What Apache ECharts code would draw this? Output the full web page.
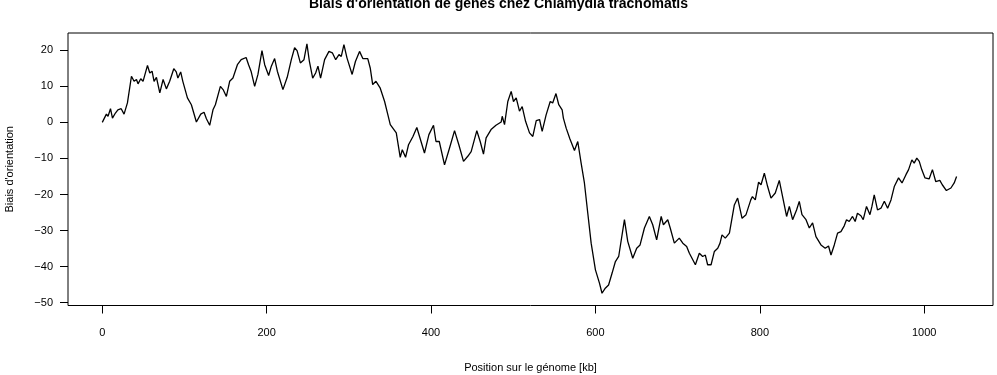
<!DOCTYPE html>
<html>
<head>
<meta charset="utf-8">
<script src="https://cdn.jsdelivr.net/npm/echarts@6/dist/echarts.min.js"></script>
<style>html,body{margin:0;padding:0;background:#fff;}#c{width:997px;height:375px;}</style>
</head>
<body>
<div id="c"></div>
<script>
const titleText = "Biais d'orientation de gènes chez Chlamydia trachomatis";
const xName = "Position sur le génome [kb]";
const yName = "Biais d'orientation";
const xTicks = [0, 200, 400, 600, 800, 1000];
const yTicks = [-50, -40, -30, -20, -10, 0, 10, 20];
const positions = [0,1,5,7,10,12.4,16,19,23,26.5,30.6,35.5,38.7,41.6,43.5,46.8,49.6,55,57.8,60.6,63,65.9,70,74,78,82,87,90,92,95.4,98,103.6,108.4,114.5,119.8,123.8,126.7,130.7,134.7,137.6,143.7,147,151,155,159,164.4,169,175,178,181,185.4,189.4,194.3,197.6,199.6,202.4,205.7,209.7,213,219.8,225,230,234,237,241,245.4,249,252,256,259.6,262.4,265.6,270.5,275.8,279.9,284,288,290.8,294,297.7,304,308,313,317,323,326,329,333,338,343.5,347.5,350.4,357.7,362.5,365,369,372.6,378,382.7,386,392,397.4,403,406,410,416.4,422.5,428.6,433.8,439.5,444.7,448.8,455.7,459.8,463.8,467,473,479,485.3,486.6,489.4,493.4,497.5,500.3,503.6,507.6,510.9,515,519.8,523.8,528,532,535.2,540,545,548,552,555.4,559.5,561,564.4,569,574.5,578.5,582.6,586.6,590.7,594.8,600,604.9,608,612,616,620.3,624.3,628.3,635.3,639.3,645.4,650.2,654.3,659.6,665.6,669.7,674.5,680,682.7,688,691,696,702,706.3,711,714.3,721.6,726.4,730.5,733.7,736.5,740.7,744.7,748.8,751.6,754,758,763,769,773,778.4,783.2,789,791,794.5,798.5,801.5,805.5,809.5,813.6,818.8,823.7,827.7,832.6,835.9,839.9,844.7,848,851.3,856.2,860.2,864.2,868.3,874.4,879.6,883.6,886.6,890.6,894.6,898.7,902.7,905.5,908.8,912.8,916,918.8,923,925.8,929.8,934,936.4,939.2,943.2,947.4,951.5,955.5,959.6,963.6,968.8,973,977.8,981,985,987.8,991,994,997,1001,1006,1010,1014,1019,1022,1027,1032.5,1036.5,1039.4];
const bias = [0,0.1,2.3,1.7,3.8,1.2,2.6,3.5,3.8,2.3,5.4,12.8,11.4,11.9,10.7,12.1,11.4,15.8,13.7,14.2,11.4,12.5,8.2,11.9,9.3,11.4,14.9,14,12.3,14,11.4,6.8,4.9,0.1,2.3,2.8,1,-0.8,3.5,4.9,10,9.1,7.2,11.4,12.3,16,17.4,18,16,14.2,10,13.3,19.9,16,16.5,13,15.6,17.7,14.2,9.1,12.5,17.4,20.7,19.9,16.5,17.4,21.8,16.9,12.3,13.7,15.6,12.3,17.4,19.7,19.3,17.4,18.8,18.3,21.6,17.9,13.3,16.9,19.7,17.7,17.7,15.1,10.5,11.4,9.6,5.8,2.1,-0.6,-2.9,-9.7,-7.6,-9.7,-6.2,-3.9,-1.4,-3.9,-8.5,-3.4,-0.8,-5.3,-5.3,-11.8,-7.1,-2.3,-6.2,-10.8,-9.4,-8.1,-2.3,-5.3,-8.8,-4.3,-2,-0.8,0.1,1.7,-0.6,5.8,8.6,5.8,6.8,3.1,4.4,0.3,-2.9,-3.9,0.5,0.8,-2.5,2.1,5.8,5.4,8,4.9,3.5,1.2,-1.6,-4.6,-7.8,-5.3,-11.3,-16.8,-25.2,-33.5,-40.9,-44.6,-47.4,-46,-45.1,-41.8,-38.6,-37.2,-27,-33,-37.7,-34.9,-34,-29.3,-26.1,-28.4,-32.6,-26.1,-28.4,-27,-29.3,-33.5,-32.1,-33.5,-34.4,-36.3,-39.5,-36.3,-37.2,-36.8,-39.5,-39.5,-35.8,-34.9,-33.5,-31.2,-32.1,-30.7,-22.9,-21,-26.6,-25.6,-21.5,-20.6,-21.5,-16.6,-17.3,-14.1,-17.8,-21,-19.6,-16.1,-20.6,-26.1,-23.3,-27,-24.3,-21.9,-25.6,-27,-29.3,-27.9,-31.7,-34,-34.9,-34.3,-36.8,-34,-30.7,-30.3,-28.7,-27,-27.5,-26.1,-27.5,-25.2,-25.9,-27,-23.3,-25.6,-23.3,-20.1,-24.3,-23.8,-21.9,-23.8,-21.5,-17.8,-15.4,-16.8,-14.5,-13.1,-10.4,-11.3,-9.9,-10.8,-13.1,-15.4,-15.7,-13.1,-16.4,-16.1,-17.3,-18.9,-18.2,-16.8,-15];

const xMin = -41.7, xMax = 1083.7, yMin = -50.8, yMax = 24.8;
const font = 'Liberation Sans, Arial, sans-serif';
const chart = echarts.init(document.getElementById('c'), null, {renderer: 'canvas'});
chart.setOption({
  animation: false,
  backgroundColor: '#fff',
  title: {
    text: titleText, left: 'center', top: -8,
    textStyle: {fontFamily: font, fontSize: 14, fontWeight: 'bold', color: '#000'}
  },
  grid: {left: 68, right: 4, top: 33, bottom: 69.5, containLabel: false, outerBoundsMode: 'none',
    show: true, borderColor: '#000', borderWidth: 1, backgroundColor: 'transparent'},
  xAxis: {
    type: 'value', min: xMin, max: xMax,
    name: xName, nameLocation: 'middle', nameGap: 57,
    nameTextStyle: {fontFamily: font, fontSize: 11, color: '#000'},
    splitLine: {show: false},
    axisLine: {show: false, onZero: false},
    axisTick: {show: true, inside: false, length: 8, customValues: xTicks, lineStyle: {color: '#000', width: 1}},
    axisLabel: {show: true, customValues: xTicks, margin: 22, fontFamily: font, fontSize: 11, color: '#000',
      formatter: v => String(v)}
  },
  yAxis: {
    type: 'value', min: yMin, max: yMax,
    name: yName, nameLocation: 'middle', nameGap: 53, nameRotate: 90,
    nameTextStyle: {fontFamily: font, fontSize: 11, color: '#000'},
    splitLine: {show: false},
    axisLine: {show: false, onZero: false},
    axisTick: {show: true, inside: false, length: 8, customValues: yTicks, lineStyle: {color: '#000', width: 1}},
    axisLabel: {show: true, customValues: yTicks, margin: 15, fontFamily: font, fontSize: 11, color: '#000',
      formatter: v => String(v).replace('-', '\u2212')}
  },
  series: [{
    type: 'line',
    data: positions.map((p, i) => [p, bias[i]]),
    showSymbol: false,
    lineStyle: {color: '#000', width: 1.3},
    silent: true
  }]
});
</script>
</body>
</html>
